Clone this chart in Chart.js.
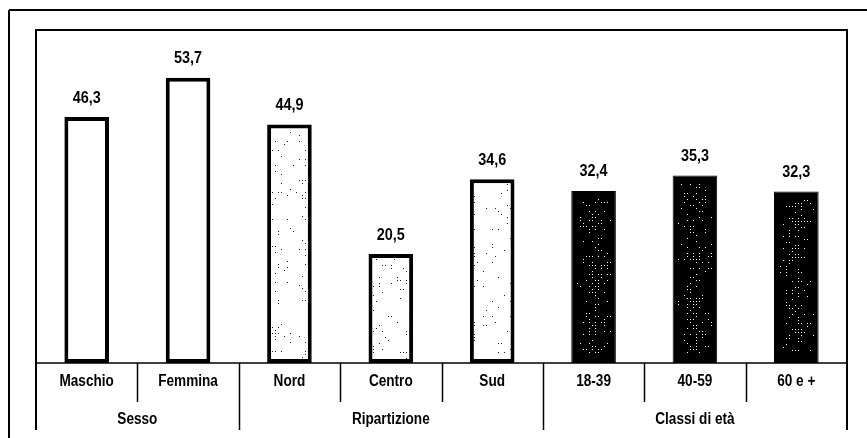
<!DOCTYPE html>
<html>
<head>
<meta charset="utf-8">
<script src="https://cdn.jsdelivr.net/npm/chart.js@4/dist/chart.umd.min.js"></script>
<style>
  html, body { margin: 0; padding: 0; background: #fff; }
  canvas { display: block; }
</style>
</head>
<body>
<canvas id="c" width="867" height="438"></canvas>
<script>
// Categories, grouped under three headings
const categories = ['Maschio', 'Femmina', 'Nord', 'Centro', 'Sud', '18-39', '40-59', '60 e +'];
const values = [46.3, 53.7, 44.9, 20.5, 34.6, 32.4, 35.3, 32.3];
const groupLabels = ['Sesso', 'Ripartizione', 'Classi di età'];
const groupSizes = [2, 3, 3];
const barStyles = ['empty', 'empty', 'dotted', 'dotted', 'dotted', 'dark', 'dark', 'dark'];

const FONT = '"Liberation Sans", Arial, sans-serif';

// Small integer hash used for the stipple texture inside the bars
function hash(a, b) {
  let h = (Math.imul(a, 374761393) + Math.imul(b, 668265263)) | 0;
  h = Math.imul(h ^ (h >>> 13), 1274126177);
  h = h ^ (h >>> 16);
  return (h >>> 0) / 4294967296;
}

const fmt = v => v.toFixed(1).replace('.', ',');

// condensed text: bold face squeezed horizontally
function narrowText(ctx, text, x, y, squeeze) {
  ctx.save();
  ctx.translate(x, y);
  ctx.scale(squeeze, 1);
  ctx.fillText(text, 0, 0);
  ctx.restore();
}

const decor = {
  id: 'decor',
  afterDatasetsDraw(chart) {
    const { ctx } = chart;
    const meta = chart.getDatasetMeta(0);
    ctx.save();
    meta.data.forEach((bar, i) => {
      const style = barStyles[i];
      const half = bar.width / 2;
      const left = bar.x - half, right = bar.x + half;
      const top = bar.y, bottom = bar.base;
      if (style === 'dotted') {
        ctx.fillStyle = '#222';
        for (let yy = Math.ceil(top) + 4; yy < bottom - 3; yy += 3) {
          for (let xx = Math.ceil(left) + 4; xx < right - 4; xx += 3) {
            const edge = (xx < left + 9 || xx > right - 9) ? 0.16 : 0.08;
            if (hash(xx * 7 + i, yy * 13) < edge) ctx.fillRect(xx, yy, 1, 1);
          }
        }
      } else if (style === 'dark') {
        ctx.fillStyle = '#fff';
        for (let yy = Math.ceil(top) + 8; yy < bottom - 8; yy += 3) {
          for (let xx = Math.ceil(left) + 5; xx < right - 5; xx += 3) {
            const d = (xx - bar.x) / (bar.width * 0.28);
            const p = 0.36 * Math.exp(-d * d);
            if (hash(xx * 11 + i * 3, yy * 17) < p) ctx.fillRect(xx, yy, 1, 1);
          }
        }
      }
      // value label above each bar
      ctx.fillStyle = '#000';
      ctx.font = 'bold 16px ' + FONT;
      ctx.textAlign = 'center';
      ctx.textBaseline = 'bottom';
      narrowText(ctx, fmt(values[i]), bar.x, top - 11, 0.9);
    });
    ctx.restore();
  },
  afterDraw(chart) {
    const { ctx, chartArea: a, scales: { x } } = chart;
    const n = categories.length;
    const boundary = k => k === 0 ? a.left : k === n ? a.right
      : (x.getPixelForValue(k - 1) + x.getPixelForValue(k)) / 2;
    const rowBottom = a.bottom + 39;
    const tableBottom = a.bottom + 67;

    ctx.save();
    ctx.strokeStyle = '#000';

    // outer page frame (top and left rules)
    ctx.lineWidth = 2;
    ctx.beginPath();
    ctx.moveTo(9, 10); ctx.lineTo(867, 10);
    ctx.moveTo(9, 10); ctx.lineTo(9, 438);
    ctx.stroke();

    // chart box: top, left and right sides
    ctx.beginPath();
    ctx.moveTo(a.left, tableBottom); ctx.lineTo(a.left, a.top);
    ctx.lineTo(a.right, a.top); ctx.lineTo(a.right, tableBottom);
    ctx.stroke();

    // baseline of the bars
    ctx.lineWidth = 1.5;
    ctx.beginPath();
    ctx.moveTo(a.left, a.bottom); ctx.lineTo(a.right, a.bottom);
    ctx.stroke();

    // dividers: short between categories, long between groups
    const groupEnds = [];
    let acc = 0;
    groupSizes.forEach(s => { acc += s; groupEnds.push(acc); });
    ctx.lineWidth = 1.5;
    for (let k = 1; k < n; k++) {
      const px = Math.round(boundary(k)) + 0.5;
      const long = groupEnds.includes(k);
      ctx.beginPath();
      ctx.moveTo(px, a.bottom);
      ctx.lineTo(px, long ? tableBottom : rowBottom);
      ctx.stroke();
    }

    // category labels
    ctx.fillStyle = '#000';
    ctx.font = 'bold 16px ' + FONT;
    ctx.textAlign = 'center';
    ctx.textBaseline = 'middle';
    categories.forEach((c, i) => narrowText(ctx, c, x.getPixelForValue(i), a.bottom + 19, 0.85));

    // group labels
    let start = 0;
    groupLabels.forEach((g, gi) => {
      const end = start + groupSizes[gi];
      const cx = (boundary(start) + boundary(end)) / 2;
      narrowText(ctx, g, cx, a.bottom + 57, 0.85);
      start = end;
    });
    ctx.restore();
  }
};

new Chart(document.getElementById('c'), {
  type: 'bar',
  data: {
    labels: categories,
    datasets: [{
      data: values,
      backgroundColor: barStyles.map(s => s === 'dark' ? '#000' : '#fff'),
      borderColor: '#000',
      borderWidth: barStyles.map(s => s === 'dark' ? 1 : 4),
      borderSkipped: false,
      categoryPercentage: 1,
      barPercentage: 0.44
    }]
  },
  options: {
    responsive: false,
    animation: false,
    events: [],
    layout: { padding: { left: 36, right: 20, top: 30, bottom: 75 } },
    plugins: { legend: { display: false }, tooltip: { enabled: false } },
    scales: {
      x: { display: false, grid: { display: false } },
      y: { display: false, min: 0, max: 62.7 }
    }
  },
  plugins: [decor]
});
</script>
</body>
</html>
